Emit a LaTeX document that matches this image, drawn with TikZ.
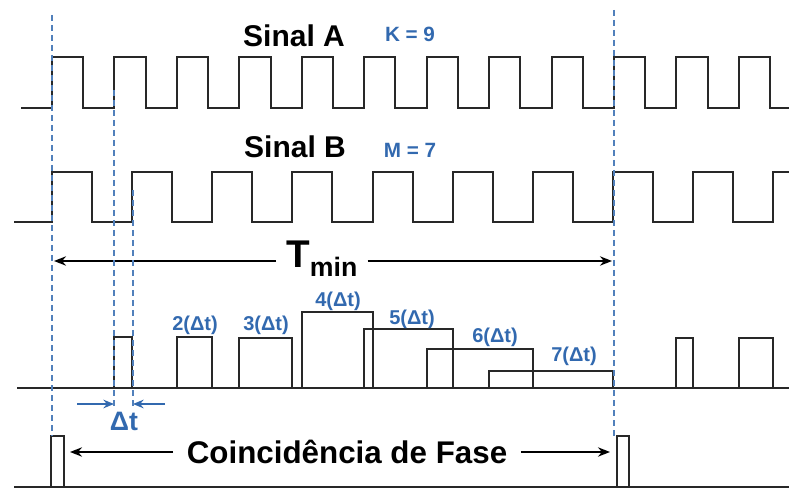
\documentclass[tikz,border=0pt]{standalone}
\usepackage{fontspec}
\setmainfont{Liberation Sans}
\usetikzlibrary{arrows.meta}
\usepackage{xcolor}
\definecolor{azul}{RGB}{50,105,175}
\definecolor{linha}{RGB}{40,40,40}

\begin{document}
\begin{tikzpicture}[
  x=0.75pt, y=-0.75pt,
  sig/.style={draw=linha, line width=1.5pt, line join=miter},
  guide/.style={draw=azul!85, line width=1.1pt, dash pattern=on 4.5pt off 3pt},
  arr/.style={-{Stealth[length=9pt, width=7pt]}, draw=black, line width=1.3pt},
  bluearr/.style={-{Stealth[length=8pt, width=6.5pt]}, draw=azul, line width=1.3pt},
  title/.style={font=\bfseries\fontsize{22.5}{26}\selectfont, anchor=base, inner sep=0pt},
  param/.style={font=\bfseries\fontsize{15.5}{18}\selectfont, text=azul, anchor=base, inner sep=0pt},
  dtlabel/.style={font=\bfseries\fontsize{15}{18}\selectfont, text=azul, anchor=base, inner sep=0pt}
]
\useasboundingbox (0,0) rectangle (789,488);

% Sinal A (K = 9)
\node[title] (sinalA) at (294,47) {Sinal A};
\node[param] (paramK) at (410,42) {K = 9};
\draw[sig] (21,108) -- (52,108)
  \foreach \k in {0,...,10} { -- ++(0,-51) -- ++(31.22,0) -- ++(0,51) -- ++(31.22,0) }
  -- ++(0,-51) -- ++(31.22,0) -- ++(0,51) -- (789,108);

% Sinal B (M = 7)
\node[title] (sinalB) at (295,158) {Sinal B};
\node[param] (paramM) at (410,158) {M = 7};
\draw[sig] (14,222) -- (52,222)
  \foreach \k in {0,...,8} { -- ++(0,-50) -- ++(40.07,0) -- ++(0,50) -- ++(40.07,0) }
  -- ++(0,-50) -- (789,172);

% Tmin
\coordinate (tl) at (54,261);
\coordinate (tr) at (612,261);
\node[anchor=base west, inner xsep=7.5pt, inner ysep=0pt] (tmin) at (276,268)
  {\bfseries\fontsize{29}{32}\selectfont T\raisebox{-6.75pt}{\fontsize{20}{22}\selectfont min}\hspace{9pt}};
\draw[arr] (tmin.west |- tl) -- (tl);
\draw[arr] (tmin.east |- tr) -- (tr);

% Trem de pulsos n(Δt)
\draw[sig] (17,388) -- (789,388);
\foreach \a/\b/\h in {114.4/132.1/337, 176.9/212.3/337, 239.3/292.4/338, 301.8/372.6/312,
  364.2/452.7/329, 426.6/532.8/349, 489.1/613.0/371, 676.4/693.1/338, 738.9/773.3/338}
  \draw[sig] (\a,388) |- (\b,\h) -- (\b,388);
\foreach \n/\x/\y in {2/195/330, 3/266/330, 4/338/307, 5/412/325, 6/495/343, 7/574/362}
  \node[dtlabel] (lbl\n) at (\x,\y) {\n(Δt)};

% Δt
\coordinate (dta) at (77,404);
\coordinate (dtb) at (114,404);
\coordinate (dtc) at (165,404);
\coordinate (dtd) at (133,404);
\draw[bluearr] (dta) -- (dtb);
\draw[bluearr] (dtc) -- (dtd);
\node[anchor=base, inner sep=0pt, text=azul, font=\bfseries\fontsize{20}{24}\selectfont] (dt) at (124,430) {Δt};

% Coincidência de fase
\draw[sig] (14,487) -- (789,487);
\draw[sig] (51,487) |- (64,436) -- (64,487);
\draw[sig] (617,487) |- (629,436) -- (629,487);
\coordinate (cl) at (70,452);
\coordinate (cr) at (610,452);
\node[anchor=base, inner xsep=10pt, inner ysep=0pt, font=\bfseries\fontsize{23.5}{28}\selectfont] (coin) at (347,463) {Coincidência de Fase};
\draw[arr] (coin.west |- cl) -- (cl);
\draw[arr] (coin.east |- cr) -- (cr);

% Linhas guia
\draw[guide] (52,15) -- (52,436);
\draw[guide] (114,90) -- (114,407);
\draw[guide] (133,190) -- (133,410);
\draw[guide] (614,10) -- (614,436);
\end{tikzpicture}
\end{document}
